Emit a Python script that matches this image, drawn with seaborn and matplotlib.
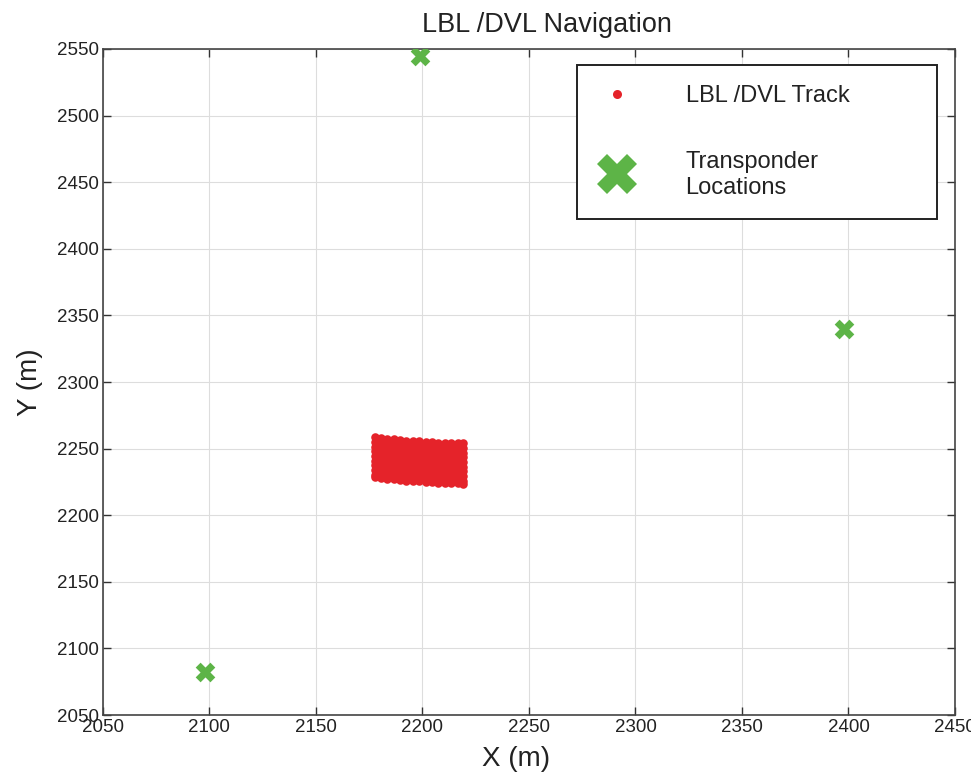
import matplotlib
matplotlib.use("Agg")
import matplotlib.pyplot as plt
from matplotlib.lines import Line2D
from matplotlib.legend_handler import HandlerLine2D
import seaborn as sns
import pandas as pd
import numpy as np

sns.set_theme(style="whitegrid")
plt.rcParams['font.family'] = ['Liberation Sans', 'DejaVu Sans']

# Transponder positions (m)
tp_x = [2199, 2098, 2398]
tp_y = [2545, 2082, 2340]

# LBL/DVL survey track: leg easting and fixes along each leg (m)
leg_x = [2177.5, 2180.5, 2183.5, 2186.5, 2189.5, 2192.5, 2195.5, 2198.5,
         2201.5, 2204.5, 2207.5, 2210.5, 2213.5, 2216.5, 2219.0]
leg_y = [
    [2258.5, 2255, 2251.5, 2248, 2244.5, 2241, 2237.5, 2234, 2230.5, 2228.5],
    [2258, 2254.5, 2251, 2247.5, 2244, 2240.5, 2237, 2233.5, 2230, 2228],
    [2257.5, 2254, 2250.5, 2247, 2243.5, 2240, 2236.5, 2233, 2229.5, 2227.5],
    [2257, 2253.5, 2250, 2246.5, 2243, 2239.5, 2236, 2232.5, 2229, 2227],
    [2256.5, 2253, 2249.5, 2246, 2242.5, 2239, 2235.5, 2232, 2228.5, 2226.5],
    [2256, 2252.5, 2249, 2245.5, 2242, 2238.5, 2235, 2231.5, 2228, 2226],
    [2255.5, 2252, 2248.5, 2245, 2241.5, 2238, 2234.5, 2231, 2227.5, 2225.5],
    [2255.5, 2252, 2248.5, 2245, 2241.5, 2238, 2234.5, 2231, 2227.5, 2225.5],
    [2255, 2251.5, 2248, 2244.5, 2241, 2237.5, 2234, 2230.5, 2227, 2225],
    [2255, 2251.5, 2248, 2244.5, 2241, 2237.5, 2234, 2230.5, 2227, 2225],
    [2254.5, 2251, 2247.5, 2244, 2240.5, 2237, 2233.5, 2230, 2226.5, 2224.5],
    [2254.5, 2251, 2247.5, 2244, 2240.5, 2237, 2233.5, 2230, 2226.5, 2224.5],
    [2254, 2250.5, 2247, 2243.5, 2240, 2236.5, 2233, 2229.5, 2226, 2224],
    [2254, 2250.5, 2247, 2243.5, 2240, 2236.5, 2233, 2229.5, 2226, 2224],
    [2254, 2250.5, 2247, 2243.5, 2240, 2236.5, 2233, 2229.5, 2226, 2223.5],
]

x_ticks = [2050, 2100, 2150, 2200, 2250, 2300, 2350, 2400, 2450]
y_ticks = [2050, 2100, 2150, 2200, 2250, 2300, 2350, 2400, 2450, 2500, 2550]

red = "#e5232a"
green = "#5db447"


class RaisedMarker(HandlerLine2D):
    # nudge the legend marker up so it sits beside a two-line label
    def __init__(self, dy, **kw):
        super().__init__(**kw)
        self.dy = dy

    def create_artists(self, *args, **kw):
        arts = super().create_artists(*args, **kw)
        for a in arts:
            a.set_ydata(np.asarray(a.get_ydata()) + self.dy)
        return arts


track = pd.DataFrame({
    'x': [x for x, ys in zip(leg_x, leg_y) for _ in ys],
    'y': [y for ys in leg_y for y in ys],
})
tp = pd.DataFrame({'x': tp_x, 'y': tp_y})

fig = plt.figure(figsize=(9.71, 7.84), dpi=100)
ax = fig.add_axes([0.106, 0.088, 0.8775, 0.8495])

sns.scatterplot(data=track, x='x', y='y', ax=ax, color=red, s=38,
                linewidth=0, marker='o', legend=False, zorder=3)
sns.scatterplot(data=tp, x='x', y='y', ax=ax, color=green, s=200,
                linewidth=0, marker='X', legend=False, zorder=3)

ax.set_xlim(2050, 2450)
ax.set_ylim(2050, 2550)
ax.set_xticks(x_ticks)
ax.set_yticks(y_ticks)
ax.tick_params(direction='in', length=6, width=1, colors='#333333',
               labelsize=13.5, labelcolor='#222222', pad=3,
               top=True, right=True, bottom=True, left=True)
ax.grid(True, color='#dddddd', linewidth=0.8)
for s in ax.spines.values():
    s.set_color('#444444')
    s.set_linewidth(1.2)

ax.set_xlabel('X (m)', fontsize=20, color='#222222', labelpad=7)
ax.xaxis.label.set_x(0.485)
ax.set_ylabel('Y (m)', fontsize=20, color='#222222', labelpad=10)
ax.set_title('LBL /DVL Navigation', fontsize=19.5, color='#222222', pad=12,
             x=0.521)

h_track = Line2D([], [], linestyle='none', marker='o', color=red,
                 markersize=6.5, markeredgewidth=0)
h_tp = Line2D([], [], linestyle='none', marker='X', color=green,
              markersize=29, markeredgewidth=0)
leg = ax.legend([h_track, h_tp], ['LBL /DVL Track', 'Transponder\nLocations'],
                handler_map={h_tp: RaisedMarker(1.0)},
                loc='upper left', bbox_to_anchor=(0.5563, 0.755, 0.4227, 0.221),
                mode='expand', borderaxespad=0, fontsize=17, frameon=True,
                fancybox=False, handlelength=1.7, handletextpad=2.05,
                labelspacing=1.85, borderpad=0.85, framealpha=1)
leg.get_frame().set_edgecolor('#222222')
leg.get_frame().set_linewidth(1.4)
for t in leg.get_texts():
    t.set_color('#222222')
    t.set_linespacing(1.25)

fig.savefig('out.png', dpi=100)
